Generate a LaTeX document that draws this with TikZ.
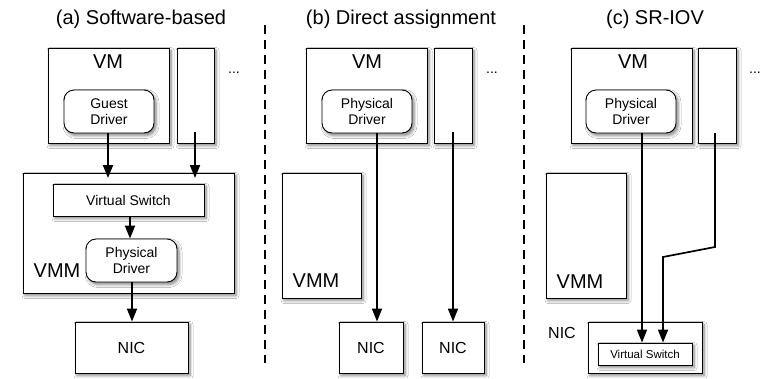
\documentclass[tikz,border=0pt]{standalone}
\usepackage{fontspec}
\setmainfont{Liberation Sans}
\usetikzlibrary{arrows.meta,shadows.blur}
\begin{document}
\begin{tikzpicture}[x=1pt,y=-1pt,
  box/.style={draw, fill=white, line width=0.9pt, inner sep=0pt,
    blur shadow={shadow xshift=2pt, shadow yshift=-2.5pt, shadow blur steps=6, shadow opacity=50, shadow blur radius=3pt}},
  rbox/.style={box, rounded corners=10pt},
  big/.style={font=\fontsize{20}{24}\selectfont, inner sep=0pt},
  nic/.style={font=\fontsize{16}{19}\selectfont, inner sep=0pt},
  small/.style={font=\fontsize{14}{16}\selectfont, align=center, inner sep=0pt},
  tiny/.style={font=\fontsize{11.5}{14}\selectfont, inner sep=0pt},
  ttl/.style={font=\fontsize{20}{24}\selectfont, anchor=base, inner sep=0pt},
  arr/.style={line width=2pt, -{Triangle[length=13pt,width=10pt]}},
  sep/.style={line width=1.5pt, dash pattern=on 9pt off 6pt}]
\useasboundingbox (0,0) rectangle (762,378);
\fill[white] (0,0) rectangle (762,378);

% separators
\coordinate (s1t) at (265,25); \coordinate (s1b) at (265,363);
\coordinate (s2t) at (524,25); \coordinate (s2b) at (524,363);
\draw[sep] (s1t) -- (s1b);
\draw[sep] (s2t) -- (s2b);

% titles
\node[ttl] (tA) at (141,24) {(a) Software-based};
\node[ttl] (tB) at (401,24) {(b) Direct assignment};
\node[ttl] (tC) at (655,24) {(c) SR-IOV};

% ---------- panel (a)
\node[box, minimum width=121pt, minimum height=95pt] (vmA) at (108.5,95.5) {};
\node[box, minimum width=37pt, minimum height=95pt] (smA) at (195.5,95.5) {};
\node[big] (vmlA) at (108,62) {VM};
\node[rbox, minimum width=90pt, minimum height=43pt] (gdA) at (109,111.5) {};
\node[small] (gdtA) at (109,111.5) {Guest\\Driver};
\node[small] (dotsA) at (234,73) {...};
\node[box, minimum width=211pt, minimum height=120pt] (vmmA) at (128.5,233) {};
\node[box, minimum width=151pt, minimum height=32pt] (vsA) at (128.5,200) {};
\node[small] (vstA) at (128.5,200) {Virtual Switch};
\node[rbox, minimum width=91pt, minimum height=43pt] (pdA) at (131.5,260.5) {};
\node[small] (pdtA) at (131.5,260.5) {Physical\\Driver};
\node[big] (vmmlA) at (57,271) {VMM};
\node[box, minimum width=113pt, minimum height=51pt] (nicA) at (131.5,347.5) {};
\node[nic] (nictA) at (131.5,347.5) {NIC};

\coordinate (a1s) at (gdA.south -| 108,0); \coordinate (a1e) at (108,178);
\coordinate (a2s) at (195,132); \coordinate (a2e) at (195,178);
\coordinate (a3s) at (vsA.south -| 130,0); \coordinate (a3e) at (pdA.north -| 130,0);
\coordinate (a4s) at (pdA.south -| 132,0); \coordinate (a4e) at (nicA.north -| 132,0);
\draw[arr] (a1s) -- (a1e);
\draw[arr] (a2s) -- (a2e);
\draw[arr] (a3s) -- (a3e);
\draw[arr] (a4s) -- (a4e);

% ---------- panel (b)
\node[box, minimum width=121pt, minimum height=95pt] (vmB) at (366.5,95.5) {};
\node[box, minimum width=38pt, minimum height=95pt] (smB) at (453,95.5) {};
\node[big] (vmlB) at (367,62) {VM};
\node[rbox, minimum width=90pt, minimum height=43pt] (pdB) at (367,111.5) {};
\node[small] (pdtB) at (367,111.5) {Physical\\Driver};
\node[small] (dotsB) at (492,73) {...};
\node[box, minimum width=79pt, minimum height=125pt] (vmmB) at (321.5,235.5) {};
\node[big] (vmmlB) at (316,281) {VMM};
\node[box, minimum width=64pt, minimum height=51pt] (nicB1) at (371,347.5) {};
\node[nic] (nictB1) at (371,347.5) {NIC};
\node[box, minimum width=62pt, minimum height=51pt] (nicB2) at (453,347.5) {};
\node[nic] (nictB2) at (453,347.5) {NIC};

\coordinate (b1s) at (pdB.south -| 377,0); \coordinate (b1e) at (nicB1.north -| 377,0);
\coordinate (b2s) at (453,132); \coordinate (b2e) at (nicB2.north);
\draw[arr, line width=1.7pt] (b1s) -- (b1e);
\draw[arr, line width=1.7pt] (b2s) -- (b2e);

% ---------- panel (c)
\node[box, minimum width=121pt, minimum height=95pt] (vmC) at (631.5,95.5) {};
\node[box, minimum width=38pt, minimum height=95pt] (smC) at (717,95.5) {};
\node[big] (vmlC) at (633,62) {VM};
\node[rbox, minimum width=90pt, minimum height=43pt] (pdC) at (631,111.5) {};
\node[small] (pdtC) at (631,111.5) {Physical\\Driver};
\node[small] (dotsC) at (755,73) {...};
\node[box, minimum width=80pt, minimum height=125pt] (vmmC) at (586,235.5) {};
\node[big] (vmmlC) at (580,282) {VMM};
\node[box, minimum width=114pt, minimum height=51pt] (nicC) at (645,347.5) {};
\node[nic] (niclC) at (562,333) {NIC};
\node[box, minimum width=94pt, minimum height=22pt] (vsC) at (645,354) {};
\node[tiny] (vstC) at (645,354) {Virtual Switch};

\coordinate (c1s) at (pdC.south -| 642,0); \coordinate (c1e) at (vsC.north -| 642,0);
\coordinate (c2s) at (715,133); \coordinate (c2m1) at (715,247);
\coordinate (c2m2) at (663,257); \coordinate (c2e) at (vsC.north -| 663,0);
\draw[arr, line width=1.7pt] (c1s) -- (c1e);
\draw[arr, line width=1.7pt] (c2s) -- (c2m1) -- (c2m2) -- (c2e);
\end{tikzpicture}
\end{document}
